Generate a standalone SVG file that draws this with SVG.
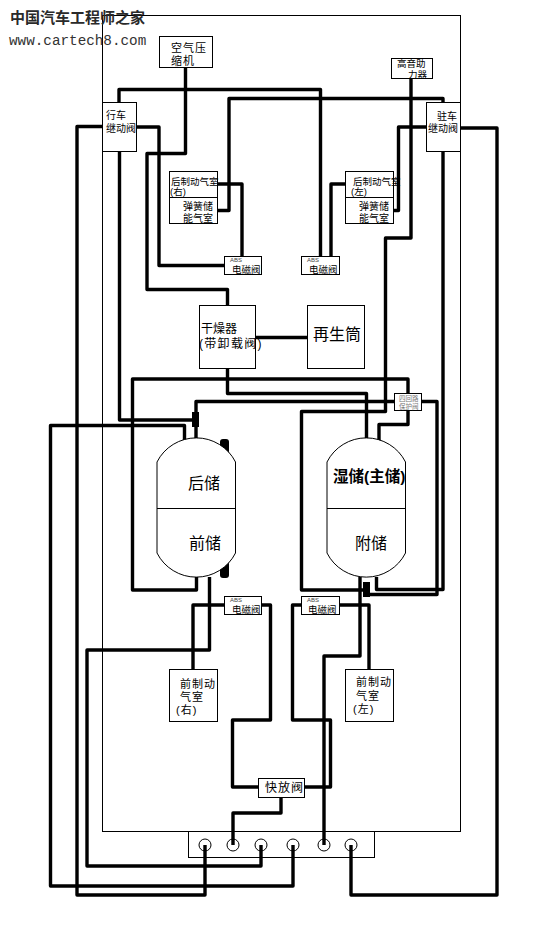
<svg xmlns="http://www.w3.org/2000/svg" width="534" height="925" viewBox="0 0 534 925">
<style>
.b{fill:#fff;stroke:#000;stroke-width:1;shape-rendering:crispEdges}
.f{fill:none;stroke:#000;stroke-width:1;shape-rendering:crispEdges}
.t{fill:#fff;stroke:#000;stroke-width:1}
.c{fill:none;stroke:#000;stroke-width:3.4;stroke-linejoin:round}
.k{fill:#000}
text{font-family:"Liberation Sans","Noto Sans CJK SC",sans-serif;fill:#000}
.s9{font-size:9.5px}.s10{font-size:10px}.s11{font-size:11px;letter-spacing:1px}.s12{font-size:12px}.s16{font-size:16px}
.abs{font-size:6px;fill:#444}
.g{font-size:6.5px;fill:#777}
.wm{font-size:15px;fill:#2a2a2a;font-weight:700}
.url{font-family:"Liberation Mono",monospace;font-size:14.3px;fill:#333}
</style>
<rect width="534" height="925" fill="#fff"/>
<g id="frame"><rect class="f" x="102.500" y="15.500" width="358" height="816"/></g>
<g id="ports">
<rect class="b" x="188.500" y="831.500" width="186" height="26"/>
<circle class="t" cx="205" cy="845" r="6"/><circle class="t" cx="233" cy="845" r="6"/><circle class="t" cx="261" cy="845" r="6"/><circle class="t" cx="293" cy="845" r="6"/><circle class="t" cx="324" cy="845" r="6"/><circle class="t" cx="351" cy="845" r="6"/>
</g>
<g id="connectors">
<path class="c" d="M119 102V89.500H320.500V256"/>
<path class="c" d="M443 102V98.500H229V210.500H217"/>
<path class="c" d="M136 127H159V265.500H224"/>
<path class="c" d="M102 126.500H77V895H205V845"/>
<path class="c" d="M119.500 151V420H193"/>
<path class="c" d="M185.500 67V153.500H147V289.500H227.500V305"/>
<path class="c" d="M217 184H242V256"/>
<path class="c" d="M345 184H331V256"/>
<path class="c" d="M426 127H398.500V210.500H394"/>
<path class="c" d="M443 151V589.500H376.500V577"/>
<path class="c" d="M460 128H497V895H351V845"/>
<path class="c" d="M411 78V238H385.500V411.500H301.500V590H363"/>
<path class="c" d="M255 337.500H307"/>
<path class="c" d="M227.500 368V393.500H366.500V440"/>
<path class="c" d="M408 393V379H132.500V590H196.500V577"/>
<path class="c" d="M408 411V424.500H379V441"/>
<path class="c" d="M394 401.500H196V440"/>
<path class="c" d="M422 401.500H437V594.500H366"/>
<path class="c" d="M184.500 441V425.500H50.500V886H293V845"/>
<path class="c" d="M209.500 577V650H87V866H261V845"/>
<path class="c" d="M224 605H193V669"/>
<path class="c" d="M262 605H270.500V720H232.500V787H258"/>
<path class="c" d="M281 797V813H233V845"/>
<path class="c" d="M304 787H330.500V720H292.500V605H301"/>
<path class="c" d="M340 605H369V669"/>
<path class="c" d="M360 577V656H324V845"/>
<rect class="k" x="192" y="412" width="7" height="15"/>
<rect class="k" x="363" y="582" width="7" height="15"/>
<rect class="k" x="220" y="439" width="9" height="22" rx="3"/>
<rect class="k" x="220" y="556" width="9" height="22" rx="3"/>
</g>
<g id="watermark">
<text class="wm" x="10" y="23">中国汽车工程师之家</text>
<text class="url" x="9" y="45">www.cartech8.com</text>
</g>
<g id="compressor"><rect class="b" x="159.500" y="36.500" width="53" height="31"/><text class="s11" x="171" y="52">空气压</text><text class="s11" x="171" y="65">缩机</text></g>
<g id="horn"><rect class="b" x="391.500" y="58.500" width="41" height="20"/><text class="s9" x="397" y="67">高音助</text><text class="s9" x="408" y="78">力器</text></g>
<g id="service-relay"><rect class="b" x="102.500" y="102.500" width="34" height="49"/><text class="s10" x="106" y="119">行车</text><text class="s10" x="106" y="132">继动阀</text></g>
<g id="park-relay"><rect class="b" x="426.500" y="102.500" width="34" height="49"/><text class="s10" x="437" y="120">驻车</text><text class="s10" x="428" y="132">继动阀</text></g>
<g id="rear-chamber-right"><rect class="b" x="169.500" y="171.500" width="48" height="52"/><path class="f" d="M169.500 197.500H217.500"/><text class="s9" x="171" y="185">后制动气室</text><text class="s9" x="170" y="195">(右)</text><text class="s10" x="183" y="210">弹簧储</text><text class="s10" x="183" y="222">能气室</text></g>
<g id="rear-chamber-left"><rect class="b" x="345.500" y="171.500" width="48" height="52"/><path class="f" d="M345.500 197.500H393.500"/><text class="s9" x="353" y="185">后制动气室</text><text class="s9" x="351" y="195">(左)</text><text class="s10" x="359" y="210">弹簧储</text><text class="s10" x="359" y="222">能气室</text></g>
<g id="abs-rear-right"><rect class="b" x="224.500" y="256.500" width="37" height="18"/><text class="abs" x="230" y="262">ABS</text><text class="s9" x="232" y="273">电磁阀</text></g>
<g id="abs-rear-left"><rect class="b" x="301.500" y="256.500" width="38" height="18"/><text class="abs" x="307" y="262">ABS</text><text class="s9" x="309" y="273">电磁阀</text></g>
<g id="dryer"><rect class="b" x="199.500" y="305.500" width="56" height="63"/><text class="s12" x="201" y="333">干燥器</text><text x="199" y="348" style="font-size:12px;letter-spacing:1.300px">(带卸载阀)</text></g>
<g id="regen"><rect class="b" x="307.500" y="305.500" width="57" height="63"/><text class="s16" x="313" y="340">再生筒</text></g>
<g id="protection-valve"><rect class="b" x="394.500" y="393.500" width="27" height="17"/><text class="g" x="399" y="401">四回路</text><text class="g" x="399" y="409">保护阀</text></g>
<g id="tank-left"><path class="t" d="M157 462A44 44 0 0 1 235.500 462V553A44 44 0 0 1 157 553Z"/><path class="f" d="M157 508.500H235.500"/><text class="s16" x="188" y="489">后储</text><text class="s16" x="189" y="549">前储</text></g>
<g id="tank-right"><path class="t" d="M327 462A44 44 0 0 1 405.500 462V553A44 44 0 0 1 327 553Z"/><path class="f" d="M327 508.500H405.500"/><text x="333" y="482" style="font-size:15.500px;font-weight:700">湿储(主储)</text><text class="s16" x="355" y="549">附储</text></g>
<g id="abs-front-right"><rect class="b" x="224.500" y="596.500" width="37" height="18"/><text class="abs" x="230" y="602">ABS</text><text class="s9" x="232" y="613">电磁阀</text></g>
<g id="abs-front-left"><rect class="b" x="301.500" y="596.500" width="38" height="18"/><text class="abs" x="307" y="602">ABS</text><text class="s9" x="308" y="613">电磁阀</text></g>
<g id="front-chamber-right"><rect class="b" x="169.500" y="669.500" width="48" height="52"/><text class="s11" x="180" y="688">前制动</text><text class="s11" x="180" y="701">气室</text><text class="s11" x="176" y="714">(右)</text></g>
<g id="front-chamber-left"><rect class="b" x="345.500" y="669.500" width="48" height="52"/><text class="s11" x="356" y="686">前制动</text><text class="s11" x="356" y="700">气室</text><text class="s11" x="353" y="713">(左)</text></g>
<g id="quick-release"><rect class="b" x="258.500" y="778.500" width="46" height="19"/><text class="s12" x="265" y="792" style="letter-spacing:1px">快放阀</text></g>
</svg>
